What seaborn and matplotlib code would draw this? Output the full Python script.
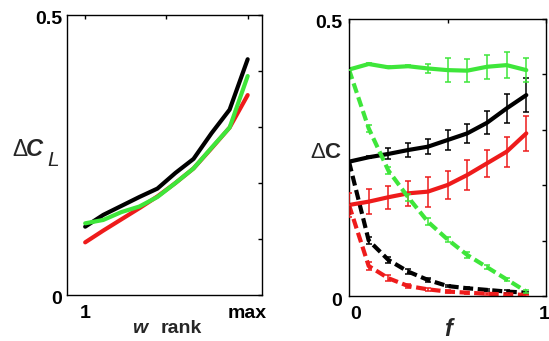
import numpy as np
import pandas as pd
import matplotlib
matplotlib.use("Agg")
import matplotlib.pyplot as plt
import matplotlib.transforms as mtransforms
import seaborn as sns

# ---------------- data ----------------
# left panel: Delta C_L versus w rank (1 .. max), normalised rank positions
rank_pos = [0, 1/9, 2/9, 3/9, 4/9, 5/9, 6/9, 7/9, 8/9, 1]
left_black = [0.122, 0.143, 0.159, 0.175, 0.190, 0.218, 0.243, 0.289, 0.331, 0.421]
left_red   = [0.094, 0.115, 0.135, 0.155, 0.176, 0.200, 0.226, 0.262, 0.299, 0.357]
left_green = [0.128, 0.134, 0.148, 0.158, 0.175, 0.200, 0.226, 0.263, 0.299, 0.391]
left_xticks = [0, 0.5, 1]
left_xticklabels = ["1", "", "max"]

# right panel: Delta C versus f
f_vals = [0.0, 0.1, 0.2, 0.3, 0.4, 0.5, 0.6, 0.7, 0.8, 0.9]
green_solid = [0.408, 0.418, 0.412, 0.414, 0.410, 0.407, 0.406, 0.413, 0.416, 0.407]
green_solid_err = [0.0, 0.002, 0.002, 0.002, 0.008, 0.021, 0.021, 0.022, 0.024, 0.022]
black_solid = [0.242, 0.250, 0.256, 0.263, 0.269, 0.281, 0.293, 0.312, 0.338, 0.362]
black_solid_err = [0.0, 0.002, 0.010, 0.013, 0.013, 0.018, 0.017, 0.021, 0.026, 0.031]
red_solid = [0.164, 0.170, 0.178, 0.185, 0.188, 0.200, 0.218, 0.239, 0.260, 0.293]
red_solid_err = [0.021, 0.022, 0.021, 0.022, 0.027, 0.025, 0.027, 0.024, 0.027, 0.031]
green_dashed = [0.408, 0.302, 0.226, 0.178, 0.134, 0.102, 0.074, 0.052, 0.030, 0.008]
green_dashed_err = [0.0, 0.006, 0.006, 0.006, 0.006, 0.005, 0.005, 0.004, 0.003, 0.002]
black_dashed = [0.242, 0.100, 0.065, 0.044, 0.029, 0.018, 0.014, 0.011, 0.008, 0.006]
black_dashed_err = [0.0, 0.007, 0.005, 0.004, 0.003, 0.002, 0.002, 0.002, 0.002, 0.002]
red_dashed = [0.164, 0.054, 0.032, 0.018, 0.012, 0.008, 0.006, 0.004, 0.003, 0.002]
red_dashed_err = [0.0, 0.008, 0.005, 0.004, 0.003, 0.002, 0.002, 0.002, 0.002, 0.001]
right_xticks = [0, 0.5, 1]
right_xticklabels = ["0", "", "1"]

yticks = [0, 0.1, 0.2, 0.3, 0.4, 0.5]
yticklabels = ["0", "", "", "", "", "0.5"]

# ---------------- style ----------------
sns.set_style("white")
plt.rcParams["font.family"] = ["Liberation Sans", "DejaVu Sans"]
plt.rcParams["mathtext.fontset"] = "custom"
plt.rcParams["mathtext.rm"] = "Liberation Sans"
plt.rcParams["mathtext.it"] = "Liberation Sans:italic"
plt.rcParams["mathtext.bf"] = "Liberation Sans:bold"

GREEN = "#3ee63a"
RED = "#ee1b1b"
BLACK = "#000000"
palette = {"black": BLACK, "red": RED, "green": GREEN}

fig = plt.figure(figsize=(5.49, 3.41), dpi=100)
W, H = 549, 341
axL = fig.add_axes([67.3 / W, (H - 295) / H, 195 / W, 280 / H])
axR = fig.add_axes([349 / W, (H - 296) / H, 197 / W, 277.5 / H])

# ---------------- left panel ----------------
dfL = pd.concat([
    pd.DataFrame({"x": rank_pos, "val": left_black, "series": "black"}),
    pd.DataFrame({"x": rank_pos, "val": left_red, "series": "red"}),
    pd.DataFrame({"x": rank_pos, "val": left_green, "series": "green"}),
])
sns.lineplot(data=dfL, x="x", y="val", hue="series", palette=palette,
             linewidth=3, legend=False, ax=axL, sort=False)
axL.set_xlim(-0.11, 1.09)
axL.set_ylim(0, 0.5)
axL.set_xticks(left_xticks)
axL.set_xticklabels(left_xticklabels)

# ---------------- right panel ----------------
series_right = [
    ("black", "solid", black_solid, black_solid_err),
    ("red", "solid", red_solid, red_solid_err),
    ("green", "solid", green_solid, green_solid_err),
    ("black", "dashed", black_dashed, black_dashed_err),
    ("red", "dashed", red_dashed, red_dashed_err),
    ("green", "dashed", green_dashed, green_dashed_err),
]
dfR = pd.concat([
    pd.DataFrame({"x": f_vals, "val": v, "err": e, "series": s, "kind": k})
    for s, k, v, e in series_right
])
sns.lineplot(data=dfR, x="x", y="val", hue="series", style="kind",
             palette=palette, dashes={"solid": "", "dashed": (2.4, 1.1)},
             linewidth=3, legend=False, ax=axR, sort=False)
for s, k, v, e in series_right:
    axR.errorbar(f_vals, v, yerr=e, fmt="none", ecolor=palette[s],
                 elinewidth=1.1, capsize=2.0, capthick=1.1, zorder=3)
axR.set_xlim(0, 1)
axR.set_ylim(0, 0.5)
axR.set_xticks(right_xticks)
axR.set_xticklabels(right_xticklabels)

# ---------------- axes cosmetics ----------------
for ax, ypad in ((axL, 3.6), (axR, 5.0)):
    ax.set_yticks(yticks)
    ax.set_yticklabels(yticklabels)
    ax.set_xlabel("")
    ax.set_ylabel("")
    ax.tick_params(direction="in", length=3, width=1, top=True, right=True,
                   labelsize=14, colors="black")
    ax.tick_params(axis="y", pad=ypad)
    ax.tick_params(axis="x", pad=7)
    for lab in ax.get_xticklabels() + ax.get_yticklabels():
        lab.set_fontweight("bold")
    for sp in ax.spines.values():
        sp.set_visible(True)
        sp.set_color("black")
        sp.set_linewidth(1)
    ax.set_facecolor("white")
    # MATLAB-like label placement: y labels slightly lower
    off = mtransforms.ScaledTranslation(0, -3 / 100, fig.dpi_scale_trans)
    for lab in ax.get_yticklabels():
        lab.set_transform(lab.get_transform() + off)

# right panel x tick labels sit slightly right of their ticks ("1" kept inside)
xl = axR.get_xticklabels()
xl[0].set_transform(xl[0].get_transform() +
                    mtransforms.ScaledTranslation(7 / 100, 0, fig.dpi_scale_trans))
xl[2].set_transform(xl[2].get_transform() +
                    mtransforms.ScaledTranslation(-2 / 100, 0, fig.dpi_scale_trans))

# axis labels
fig.text(12 / W, (H - 156) / H, "\u0394", fontsize=16.5, ha="left", va="baseline")
fig.text(26 / W, (H - 156) / H, "C", fontsize=17, fontweight="bold",
         style="italic", ha="left", va="baseline")
fig.text(47 / W, (H - 166.5) / H, "L", fontsize=15, style="italic",
         ha="left", va="baseline")
fig.text(342 / W, (H - 157.7) / H, r"$\Delta\mathbf{C}$",
         fontsize=16, ha="right", va="baseline")
fig.text(140 / W, (H - 333.3) / H, "w", fontsize=14, fontweight="bold",
         style="italic", ha="center", va="baseline")
fig.text(181 / W, (H - 333.3) / H, "rank", fontsize=14, fontweight="bold",
         ha="center", va="baseline")
fig.text(448 / W, (H - 336) / H, "f", fontsize=17, fontweight="bold",
         style="italic", ha="center", va="baseline")

fig.savefig("out.png", dpi=100, facecolor="white")
